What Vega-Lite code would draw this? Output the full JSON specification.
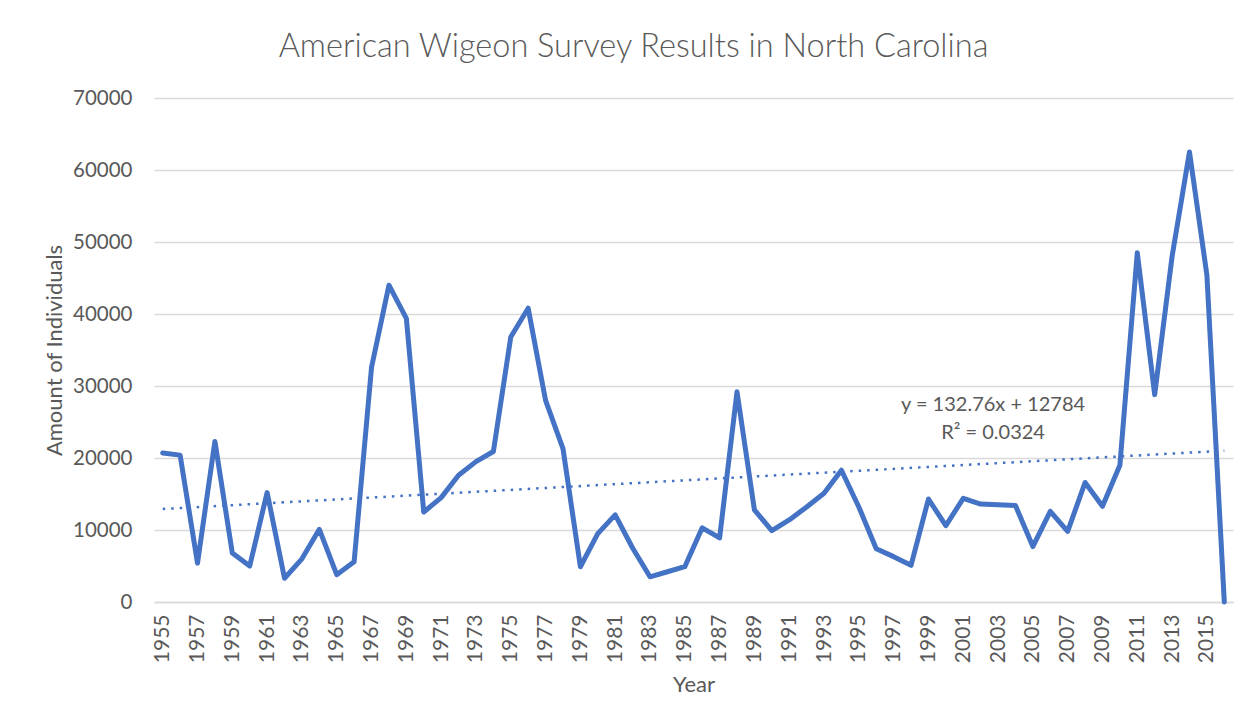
{
  "$schema": "https://vega.github.io/schema/vega-lite/v6.json",
  "width": 1079,
  "height": 504,
  "autosize": {"type": "none"},
  "padding": {"left": 154, "top": 98, "right": 25, "bottom": 126},
  "background": "white",
  "config": {
    "view": {"stroke": null},
    "font": "Lato",
    "axis": {"labelColor": "#595959", "titleColor": "#595959", "labelFont": "Lato", "titleFont": "Lato", "titleFontWeight": "normal"}
  },
  "title": {
    "text": "American Wigeon Survey Results in North Carolina",
    "font": "Lato",
    "fontSize": 32.5,
    "fontWeight": 300,
    "color": "#595959",
    "anchor": "middle",
    "dx": -60,
    "offset": 25
  },
  "datasets": {
    "main": [
      {"year": 1955, "value": 20700}, {"year": 1956, "value": 20400}, {"year": 1957, "value": 5400},
      {"year": 1958, "value": 22300}, {"year": 1959, "value": 6800}, {"year": 1960, "value": 5000},
      {"year": 1961, "value": 15200}, {"year": 1962, "value": 3300}, {"year": 1963, "value": 6000},
      {"year": 1964, "value": 10100}, {"year": 1965, "value": 3800}, {"year": 1966, "value": 5600},
      {"year": 1967, "value": 32600}, {"year": 1968, "value": 44000}, {"year": 1969, "value": 39400},
      {"year": 1970, "value": 12500}, {"year": 1971, "value": 14500}, {"year": 1972, "value": 17600},
      {"year": 1973, "value": 19500}, {"year": 1974, "value": 20900}, {"year": 1975, "value": 36800},
      {"year": 1976, "value": 40800}, {"year": 1977, "value": 28000}, {"year": 1978, "value": 21300},
      {"year": 1979, "value": 4900}, {"year": 1980, "value": 9500}, {"year": 1981, "value": 12100},
      {"year": 1982, "value": 7500}, {"year": 1983, "value": 3500}, {"year": 1984, "value": 4200},
      {"year": 1985, "value": 4900}, {"year": 1986, "value": 10300}, {"year": 1987, "value": 8900},
      {"year": 1988, "value": 29200}, {"year": 1989, "value": 12800}, {"year": 1990, "value": 9900},
      {"year": 1991, "value": 11400}, {"year": 1992, "value": 13200}, {"year": 1993, "value": 15100},
      {"year": 1994, "value": 18300}, {"year": 1995, "value": 13200}, {"year": 1996, "value": 7400},
      {"year": 1997, "value": 6300}, {"year": 1998, "value": 5100}, {"year": 1999, "value": 14300},
      {"year": 2000, "value": 10600}, {"year": 2001, "value": 14400}, {"year": 2002, "value": 13600},
      {"year": 2003, "value": 13500}, {"year": 2004, "value": 13400}, {"year": 2005, "value": 7700},
      {"year": 2006, "value": 12600}, {"year": 2007, "value": 9800}, {"year": 2008, "value": 16600},
      {"year": 2009, "value": 13300}, {"year": 2010, "value": 19000}, {"year": 2011, "value": 48500},
      {"year": 2012, "value": 28800}, {"year": 2013, "value": 48000}, {"year": 2014, "value": 62500},
      {"year": 2015, "value": 45400}, {"year": 2016, "value": 0}
    ],
    "trend": [
      {"year": 1955, "value": 12917},
      {"year": 2016, "value": 21015}
    ]
  },
  "layer": [
    {
      "data": {"name": "main"},
      "mark": {"type": "line", "color": "#4472C4", "strokeWidth": 5, "strokeJoin": "round", "strokeCap": "round"},
      "encoding": {
        "x": {
          "field": "year", "type": "ordinal",
          "scale": {"type": "point", "padding": 0.5},
          "axis": {
            "title": "Year",
            "values": [1955,1957,1959,1961,1963,1965,1967,1969,1971,1973,1975,1977,1979,1981,1983,1985,1987,1989,1991,1993,1995,1997,1999,2001,2003,2005,2007,2009,2011,2013,2015],
            "labelAngle": 270,
            "labelFontSize": 21,
            "labelPadding": 12,
            "labelOverlap": false,
            "ticks": false,
            "grid": false,
            "domain": true,
            "domainColor": "#d9d9d9",
            "domainWidth": 1.5,
            "titleFontSize": 22,
            "titlePadding": 12
          }
        },
        "y": {
          "field": "value", "type": "quantitative",
          "scale": {"domain": [0, 70000], "nice": false},
          "axis": {
            "title": "Amount of Individuals",
            "values": [0,10000,20000,30000,40000,50000,60000,70000],
            "format": "d",
            "labelFontSize": 20.5,
            "labelPadding": 22,
            "ticks": false,
            "domain": false,
            "grid": true,
            "gridColor": "#d9d9d9",
            "gridWidth": 1.5,
            "titleFontSize": 22,
            "titlePadding": 6
          }
        }
      }
    },
    {
      "data": {"name": "trend"},
      "mark": {"type": "line", "color": "#4472C4", "strokeWidth": 2.5, "strokeDash": [2.5, 6]},
      "encoding": {
        "x": {"field": "year", "type": "ordinal"},
        "y": {"field": "value", "type": "quantitative"}
      }
    },
    {
      "data": {"values": [{}]},
      "mark": {"type": "text", "color": "#595959", "fontSize": 20, "font": "Lato", "align": "center", "baseline": "middle", "dx": -5},
      "encoding": {
        "x": {"datum": 2003, "type": "ordinal"},
        "y": {"datum": 27400, "type": "quantitative"},
        "text": {"value": "y = 132.76x + 12784"}
      }
    },
    {
      "data": {"values": [{}]},
      "mark": {"type": "text", "color": "#595959", "fontSize": 20, "font": "Lato", "align": "center", "baseline": "middle", "dx": -5},
      "encoding": {
        "x": {"datum": 2003, "type": "ordinal"},
        "y": {"datum": 23500, "type": "quantitative"},
        "text": {"value": "R² = 0.0324"}
      }
    }
  ]
}
